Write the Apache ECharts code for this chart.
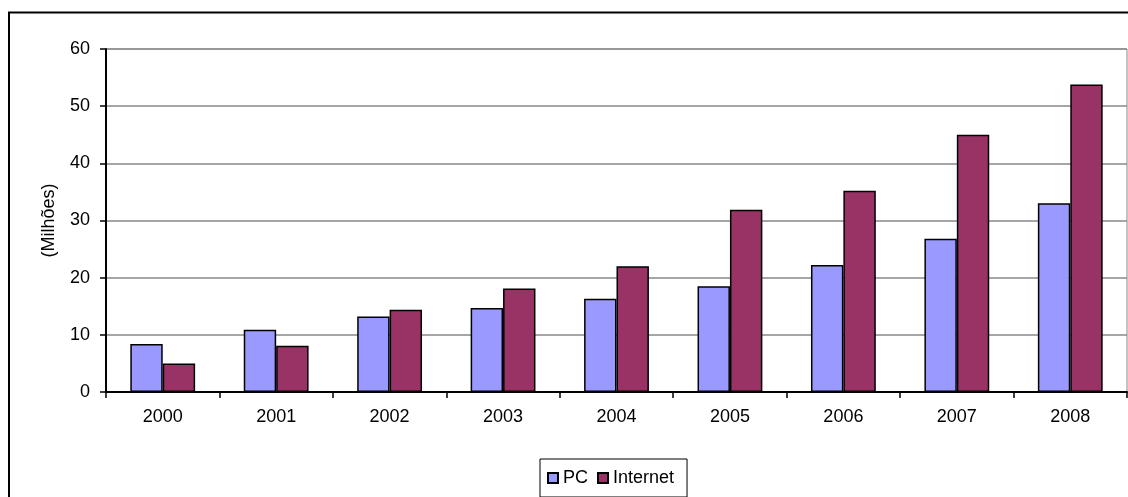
<!DOCTYPE html>
<html>
<head>
<meta charset="utf-8">
<script src="https://cdn.jsdelivr.net/npm/echarts@6/dist/echarts.min.js"></script>
<style>
  html, body { margin: 0; padding: 0; background: #fff; }
  #chart { width: 1128px; height: 497px; }
</style>
</head>
<body>
<div id="chart"></div>
<script>
// Years on the category axis
const years = ['2000', '2001', '2002', '2003', '2004', '2005', '2006', '2007', '2008'];
// Values in millions
const pcValues = [8.4, 10.9, 13.2, 14.7, 16.3, 18.5, 22.2, 26.8, 33.0];
const internetValues = [5.0, 8.1, 14.4, 18.1, 22.0, 31.9, 35.2, 45.0, 53.8];
const seriesNames = ['PC', 'Internet'];
const yAxisTitle = '(Milhões)';

const FONT = '"Liberation Sans", Arial, sans-serif';
const chart = echarts.init(document.getElementById('chart'), null, { renderer: 'canvas' });

chart.setOption({
  backgroundColor: '#ffffff',
  animation: false,
  textStyle: { fontFamily: FONT },
  graphic: [{
    // outer chart-area frame
    type: 'rect',
    shape: { x: 9, y: 12.5, width: 1300, height: 700 },
    style: { fill: 'none', stroke: '#000', lineWidth: 2 },
    z: 0
  }],
  grid: {
    left: 106, right: 1, top: 49, bottom: 105,
    show: true, borderColor: '#888', borderWidth: 1, backgroundColor: 'transparent'
  },
  legend: {
    data: seriesNames,
    left: 540, top: 459,
    orient: 'horizontal',
    itemWidth: 10, itemHeight: 10, itemGap: 9,
    padding: [10, 13, 10, 7],
    borderColor: '#000', borderWidth: 1,
    icon: 'rect',
    textStyle: { fontSize: 18, color: '#000', fontFamily: FONT }
  },
  xAxis: {
    type: 'category',
    data: years,
    boundaryGap: true,
    axisLine: { show: true, lineStyle: { color: '#000', width: 2 } },
    axisTick: { show: true, length: 6, lineStyle: { color: '#000', width: 1.5 } },
    axisLabel: { fontSize: 18, color: '#000', margin: 16, fontFamily: FONT },
    splitLine: { show: false }
  },
  yAxis: {
    type: 'value',
    min: 0, max: 60, interval: 10,
    name: yAxisTitle,
    nameLocation: 'middle',
    nameGap: 48,
    nameRotate: 90,
    nameTextStyle: { fontSize: 18, color: '#000', fontFamily: FONT },
    axisLine: { show: true, lineStyle: { color: '#000', width: 2 } },
    axisTick: { show: true, length: 6, lineStyle: { color: '#000', width: 1.5 } },
    axisLabel: { fontSize: 18, color: '#000', margin: 16, fontFamily: FONT },
    splitLine: { show: true, lineStyle: { color: '#888', width: 1.5 } }
  },
  series: [
    {
      name: seriesNames[0], type: 'bar', data: pcValues,
      barGap: '0%', barCategoryGap: '42.857%',
      itemStyle: { color: '#9999ff', borderColor: '#000', borderWidth: 1.5 }
    },
    {
      name: seriesNames[1], type: 'bar', data: internetValues,
      barGap: '0%', barCategoryGap: '42.857%',
      itemStyle: { color: '#993366', borderColor: '#000', borderWidth: 1.5 }
    }
  ]
});
</script>
</body>
</html>
